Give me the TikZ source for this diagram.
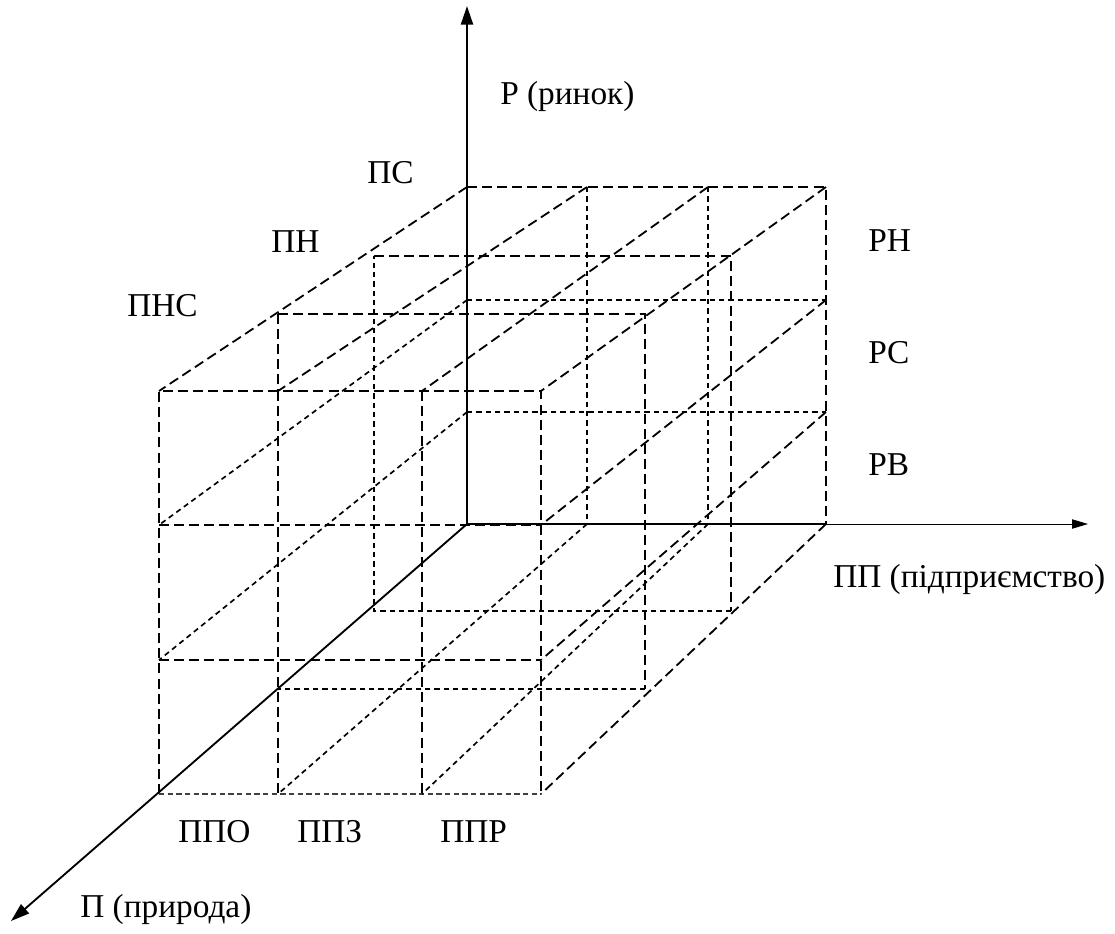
\documentclass[tikz,border=0pt]{standalone}
\usepackage{fontspec}
\setmainfont{Liberation Serif}
\usetikzlibrary{arrows.meta}
\begin{document}
\begin{tikzpicture}[x=0.75pt,y=-0.75pt,
  longdash/.style={line width=1.35pt, dash pattern=on 7.5pt off 3.8pt},
  shortdash/.style={line width=1.25pt, dash pattern=on 4pt off 3pt},
  thindash/.style={line width=0.8pt, dash pattern=on 4pt off 2.5pt, black!75},
  lbl/.style={font=\fontsize{25}{30}\selectfont, inner sep=0pt, anchor=base west},
  tipa/.style={-{Triangle[length=14pt,width=9pt]}}
]
\useasboundingbox (0,0) rectangle (1115,933);

% back face grid points
\foreach \x [count=\i] in {467,587,708,826}{
  \foreach \y [count=\j] in {187,300,412,524}{
    \coordinate (a\i\j) at (\x,\y);}}
% front face grid points
\foreach \x [count=\i] in {159,278,422,541}{
  \foreach \y [count=\j] in {391,525,660,794}{
    \coordinate (d\i\j) at (\x,\y);}}
% middle frames
\coordinate (b1) at (374,256); \coordinate (b2) at (731,256);
\coordinate (b3) at (731,611); \coordinate (b4) at (374,611);
\coordinate (c1) at (278,314); \coordinate (c2) at (645,314);
\coordinate (c3) at (645,689); \coordinate (c4) at (278,689);
% axis tips
\coordinate (ytip) at (467,6);
\coordinate (xtip) at (1088,524);
\coordinate (ztip) at (11,921);

% back face
\draw[longdash] (a11) -- (a41) -- (a44);
\draw[shortdash] (a12) -- (a42);
\draw[shortdash] (a13) -- (a43);
\draw[shortdash] (a21) -- (a24);
\draw[shortdash] (a31) -- (a34);

% front face
\draw[longdash] (d14) -- (d11) -- (d41) -- (d44);
\draw[thindash] (d14) -- (d44);
\draw[longdash] (d12) -- (d42);
\draw[longdash] (d13) -- (d43);
\draw[longdash] (d21) -- (d24);
\draw[longdash] (d31) -- (d34);

% middle frames
\draw[longdash] (b1) -- (b2) -- (b3);
\draw[shortdash] (b3) -- (b4) -- (b1);
\draw[longdash] (c1) -- (c2) -- (c3);
\draw[shortdash] (c3) -- (c4);
\draw[longdash] (c1) -- (d21);

% depth edges
\draw[longdash] (a11) -- (d11);
\draw[longdash] (a21) -- (d21);
\draw[longdash] (a31) -- (d31);
\draw[longdash] (a41) -- (d41);
\draw[shortdash] (a12) -- (d12);
\draw[shortdash] (a13) -- (d13);
\draw[longdash] (a42) -- (d42);
\draw[longdash] (a43) -- (d43);
\draw[shortdash] (a24) -- (d24);
\draw[shortdash] (a34) -- (d34);
\draw[longdash] (a44) -- (d44);

% axes
\draw[line width=1.8pt, tipa] (a14) -- (ytip);
\draw[line width=1.8pt] (a14) -- (a44);
\draw[line width=0.75pt, -{Triangle[length=12pt,width=7pt]}] (a44) -- (xtip);
\draw[line width=1.4pt, tipa] (a14) -- (ztip);

% labels
\node[lbl] (lr) at (500,104) {Р (ринок)};
\node[lbl] (lps) at (367,183) {ПС};
\node[lbl] (lpn) at (271,252) {ПН};
\node[lbl] (lpns) at (127,316) {ПНС};
\node[lbl] (lrn) at (868,251) {РН};
\node[lbl] (lrs) at (868,363) {РС};
\node[lbl] (lrv) at (868,475) {РВ};
\node[lbl] (lpp) at (833,587) {ПП (підприємство)};
\node[lbl] (lppo) at (178,842) {ППО};
\node[lbl] (lppz) at (297,842) {ППЗ};
\node[lbl] (lppr) at (440,842) {ППР};
\node[lbl] (lp) at (80,917) {П (природа)};
\end{tikzpicture}
\end{document}
